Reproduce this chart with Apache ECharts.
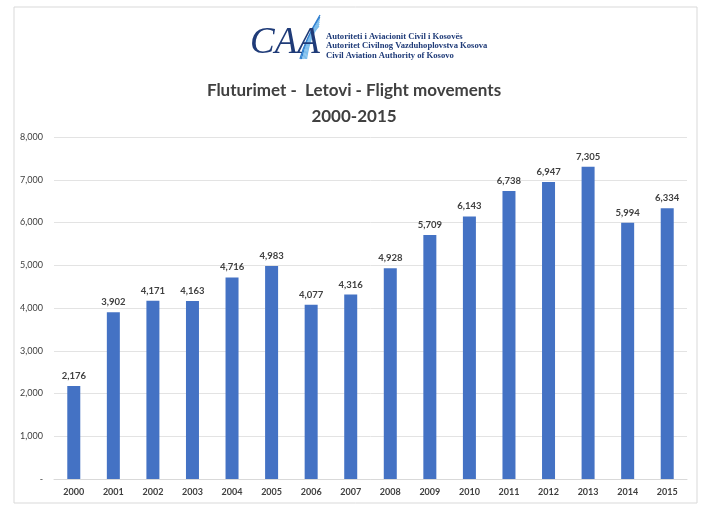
<!DOCTYPE html>
<html>
<head>
<meta charset="utf-8">
<script src="https://cdn.jsdelivr.net/npm/echarts@6/dist/echarts.min.js"></script>
<style>
  html, body { margin: 0; padding: 0; background: #fff; }
  #chart { width: 708px; height: 523px; }
</style>
</head>
<body>
<div id="chart"></div>
<script>
var years = ['2000', '2001', '2002', '2003', '2004', '2005', '2006', '2007',
  '2008', '2009', '2010', '2011', '2012', '2013', '2014', '2015']
var movements = [2176, 3902, 4171, 4163, 4716, 4983, 4077, 4316,
  4928, 5709, 6143, 6738, 6947, 7305, 5994, 6334]
var logoLines = ['Autoriteti i Aviacionit Civil i Kosovës',
  'Autoritet Civilnog Vazduhoplovstva Kosova',
  'Civil Aviation Authority of Kosovo']

var fmt = function (v) {
  return v === 0 ? '-' : v.toLocaleString('en-US')
}

// feather strokes of the logo
var feather = []
for (var i = 0; i < 6; i++) {
  feather.push({
    type: 'bezierCurve',
    shape: {
      x1: 300 + i * 1.3, y1: 59,
      cpx1: 305 + i, cpy1: 40 - i,
      x2: 320 - i * 0.2, y2: 15 + i * 2.2
    },
    style: { stroke: i < 2 ? '#2f7fcf' : '#7cbdec', lineWidth: 1.3, fill: 'none' },
    silent: true
  })
}

var myChart = echarts.init(document.getElementById('chart'))
myChart.setOption({
  animation: false,
  textStyle: { fontFamily: 'Lato' },
  title: {
    text: 'Fluturimet -  Letovi - Flight movements\n2000-2015',
    left: 'center',
    top: 73,
    textStyle: { fontSize: 17, fontWeight: 'bold', color: '#404040', lineHeight: 26, fontFamily: 'Lato' }
  },
  grid: { left: 54, right: 21, top: 137, bottom: 44 },
  xAxis: {
    type: 'category',
    data: years,
    axisTick: { show: false },
    axisLine: { lineStyle: { color: '#d9d9d9' } },
    axisLabel: { color: '#404040', fontSize: 9, fontWeight: 'bold', margin: 9 }
  },
  yAxis: {
    type: 'value',
    min: 0,
    max: 8000,
    interval: 1000,
    axisLine: { show: false },
    axisTick: { show: false },
    splitLine: { lineStyle: { color: '#e3e3e3' } },
    axisLabel: { color: '#404040', fontSize: 9, margin: 11, formatter: fmt }
  },
  series: [{
    type: 'bar',
    data: movements,
    barWidth: 13,
    itemStyle: { color: '#4472C4' },
    label: {
      show: true,
      position: 'top',
      distance: 5,
      color: '#404040',
      fontSize: 9.5,
      fontWeight: 'bold',
      fontFamily: 'Lato',
      formatter: function (p) { return fmt(p.value) }
    }
  }],
  graphic: [
    {
      type: 'rect',
      shape: { x: 14, y: 7, width: 683, height: 496 },
      style: { fill: 'none', stroke: '#d9d9d9', lineWidth: 1 },
      silent: true
    },
    {
      type: 'group',
      silent: true,
      children: feather.concat([
        {
          type: 'text',
          x: 250,
          y: 25,
          style: {
            text: 'CAA',
            font: 'italic 37px "Liberation Serif"',
            fill: '#1f3b78'
          }
        },
        {
          type: 'text',
          x: 326,
          y: 32,
          style: {
            text: logoLines.join('\n'),
            font: 'bold 8.6px "Liberation Serif"',
            lineHeight: 9.5,
            fill: '#1f3b78'
          }
        }
      ])
    }
  ]
})
</script>
</body>
</html>
